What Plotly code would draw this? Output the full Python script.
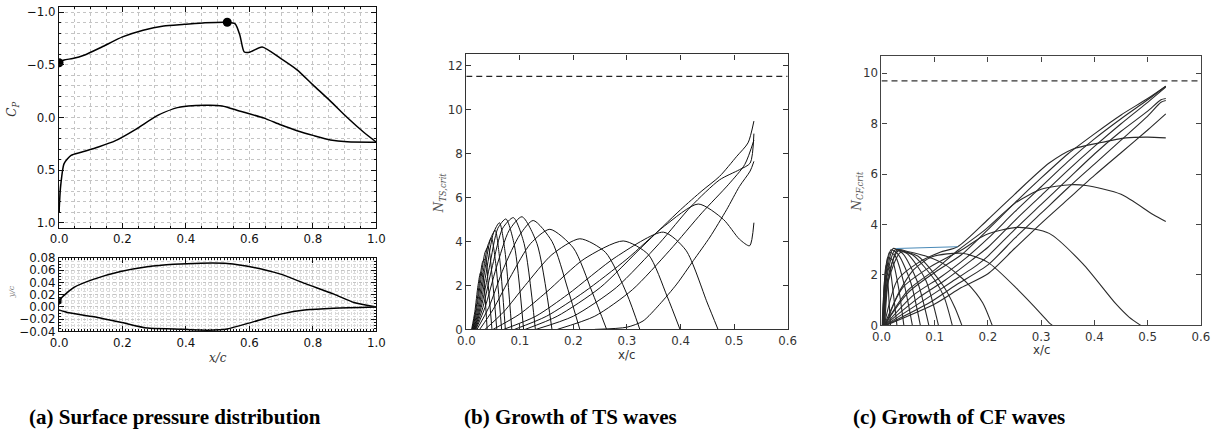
import plotly.graph_objects as go

# ---------------- Panel (a): surface pressure ----------------
cp_upper_x = [0.0, 0.001, 0.016, 0.043, 0.081, 0.135, 0.20, 0.265, 0.33, 0.395, 0.46, 0.53, 0.555, 0.570, 0.583, 0.60, 0.64, 0.698, 0.75, 0.80, 0.855, 0.908, 0.96, 1.0]
cp_upper_y = [0.90, -0.52, -0.547, -0.56, -0.594, -0.67, -0.766, -0.83, -0.87, -0.885, -0.90, -0.905, -0.89, -0.78, -0.625, -0.62, -0.67, -0.562, -0.453, -0.31, -0.156, 0.0, 0.14, 0.235]
cp_lower_x = [0.0, 0.005, 0.016, 0.038, 0.07, 0.124, 0.178, 0.243, 0.308, 0.373, 0.46, 0.514, 0.568, 0.646, 0.698, 0.75, 0.803, 0.855, 0.908, 1.0]
cp_lower_y = [0.906, 0.656, 0.4375, 0.36, 0.33, 0.28, 0.22, 0.11, -0.016, -0.094, -0.116, -0.11, -0.0625, 0.006, 0.069, 0.125, 0.172, 0.213, 0.231, 0.235]
cp_marker_x = [0.0, 0.53]
cp_marker_y = [-0.52, -0.905]

yc_upper_x = [0.0, 0.005, 0.047, 0.11, 0.194, 0.278, 0.362, 0.446, 0.53, 0.614, 0.698, 0.78, 0.866, 0.929, 1.0]
yc_upper_y = [0.004, 0.013, 0.032, 0.0456, 0.058, 0.0658, 0.070, 0.0718, 0.0713, 0.0647, 0.0538, 0.0375, 0.021, 0.0074, 0.0]
yc_lower_x = [0.0, 0.026, 0.11, 0.194, 0.278, 0.362, 0.47, 0.53, 0.614, 0.698, 0.78, 0.866, 1.0]
yc_lower_y = [-0.005, -0.009, -0.016, -0.025, -0.0346, -0.036, -0.038, -0.036, -0.024, -0.0117, -0.0046, -0.0019, 0.0]

# ---------------- Panel (b): TS waves ----------------
ts_crit = 11.5
ts_curves = [
    ([0.010, 0.016, 0.022, 0.027, 0.031, 0.035, 0.039], [0, 0.8, 2.0, 2.6, 2.5, 1.5, 0]),
    ([0.011, 0.018, 0.025, 0.031, 0.036, 0.041, 0.048], [0, 0.9, 2.2, 3.1, 3.2, 2.0, 0]),
    ([0.012, 0.020, 0.028, 0.035, 0.041, 0.048, 0.057], [0, 1.0, 2.4, 3.5, 3.75, 2.5, 0]),
    ([0.013, 0.022, 0.031, 0.040, 0.047, 0.055, 0.066], [0, 1.0, 2.5, 3.8, 4.15, 3.0, 0]),
    ([0.014, 0.024, 0.034, 0.045, 0.054, 0.062, 0.073], [0, 1.0, 2.6, 4.1, 4.5, 3.3, 0]),
    ([0.015, 0.026, 0.038, 0.051, 0.062, 0.072, 0.085], [0, 1.0, 2.7, 4.4, 4.85, 3.6, 0]),
    ([0.016, 0.028, 0.043, 0.059, 0.074, 0.090, 0.107], [0, 1.0, 2.8, 4.6, 5.02, 3.8, 0]),
    ([0.017, 0.031, 0.049, 0.068, 0.088, 0.108, 0.129], [0, 1.0, 2.9, 4.6, 5.08, 3.9, 0]),
    ([0.018, 0.035, 0.056, 0.080, 0.104, 0.132, 0.160], [0, 1.0, 2.8, 4.5, 5.12, 3.9, 0]),
    ([0.020, 0.042, 0.070, 0.100, 0.125, 0.160, 0.190, 0.212], [0, 1.0, 2.8, 4.3, 4.95, 4.0, 1.8, 0]),
    ([0.025, 0.050, 0.085, 0.120, 0.156, 0.200, 0.235, 0.262], [0, 0.9, 2.5, 3.9, 4.55, 3.7, 1.7, 0]),
    ([0.035, 0.070, 0.110, 0.160, 0.212, 0.260, 0.300, 0.324], [0, 0.8, 2.0, 3.4, 4.12, 3.5, 1.6, 0]),
    ([0.050, 0.100, 0.150, 0.220, 0.293, 0.340, 0.375, 0.399], [0, 0.7, 1.7, 3.2, 4.02, 3.4, 1.5, 0]),
    ([0.070, 0.130, 0.190, 0.280, 0.368, 0.410, 0.450, 0.470], [0, 0.6, 1.6, 3.3, 4.42, 3.6, 1.2, 0]),
    ([0.090, 0.150, 0.220, 0.300, 0.370, 0.433, 0.480, 0.510, 0.529, 0.537], [0, 0.6, 1.7, 3.2, 4.7, 5.7, 5.0, 4.1, 3.8, 4.85]),
    ([0.110, 0.170, 0.250, 0.330, 0.400, 0.440, 0.473, 0.505, 0.526, 0.537], [0, 0.6, 1.9, 3.8, 5.44, 6.3, 6.96, 7.87, 8.48, 9.47]),
    ([0.130, 0.200, 0.280, 0.360, 0.420, 0.473, 0.510, 0.530, 0.537], [0, 0.6, 1.9, 3.9, 5.6, 6.8, 7.26, 7.56, 8.9]),
    ([0.170, 0.240, 0.310, 0.380, 0.440, 0.490, 0.520, 0.537], [0, 0.6, 1.8, 3.6, 5.3, 6.6, 7.5, 8.6]),
    ([0.240, 0.300, 0.330, 0.361, 0.393, 0.424, 0.455, 0.486, 0.510, 0.530, 0.537], [0, 0.1, 0.38, 1.14, 2.06, 3.13, 4.2, 5.44, 6.5, 7.2, 7.64]),
]

# ---------------- Panel (c): CF waves ----------------
cf_crit = 9.7
cf_curves = [
    ([0.001, 0.004, 0.007, 0.011, 0.014, 0.017], [0, 1.2, 1.9, 1.8, 1.0, 0]),
    ([0.002, 0.005, 0.009, 0.015, 0.022, 0.029], [0, 1.5, 2.4, 2.3, 1.3, 0]),
    ([0.002, 0.006, 0.012, 0.020, 0.032, 0.042], [0, 1.7, 2.7, 2.6, 1.5, 0]),
    ([0.003, 0.007, 0.015, 0.026, 0.043, 0.058], [0, 1.8, 2.9, 2.75, 1.6, 0]),
    ([0.003, 0.008, 0.018, 0.032, 0.055, 0.073], [0, 1.9, 3.0, 2.8, 1.7, 0]),
    ([0.004, 0.009, 0.022, 0.040, 0.068, 0.089], [0, 1.9, 3.05, 2.85, 1.7, 0]),
    ([0.004, 0.010, 0.026, 0.048, 0.083, 0.107], [0, 1.9, 3.0, 2.85, 1.8, 0]),
    ([0.005, 0.011, 0.031, 0.058, 0.100, 0.118, 0.133], [0, 1.8, 2.95, 2.8, 1.8, 1.1, 0]),
    ([0.005, 0.012, 0.036, 0.068, 0.115, 0.138, 0.151], [0, 1.7, 2.9, 2.75, 1.6, 0.7, 0]),
    ([0.006, 0.013, 0.030, 0.051, 0.083, 0.120, 0.160, 0.190, 0.208], [0, 1.8, 3.0, 2.92, 2.75, 2.4, 1.7, 0.9, 0]),
    ([0.008, 0.030, 0.060, 0.095, 0.152, 0.200, 0.257, 0.300, 0.315, 0.321], [0, 1.2, 2.2, 2.72, 2.86, 2.5, 1.4, 0.45, 0.1, 0]),
    ([0.005, 0.040, 0.090, 0.151, 0.195, 0.2575, 0.315, 0.378, 0.440, 0.465, 0.487], [0, 1.5, 2.3, 3.0, 3.59, 3.89, 3.65, 2.45, 0.86, 0.33, 0]),
    ([0.005, 0.050, 0.100, 0.145, 0.195, 0.251, 0.300, 0.355, 0.384, 0.450, 0.510, 0.534], [0, 1.4, 2.2, 3.0, 3.8, 4.85, 5.4, 5.58, 5.55, 5.2, 4.4, 4.12]),
    ([0.005, 0.030, 0.070, 0.110, 0.143, 0.200, 0.250, 0.315, 0.360, 0.409, 0.459, 0.500, 0.534], [0, 1.8, 2.5, 2.9, 3.12, 4.2, 5.2, 6.44, 7.0, 7.24, 7.44, 7.47, 7.44]),
    ([0.005, 0.050, 0.100, 0.150, 0.200, 0.250, 0.300, 0.350, 0.400, 0.450, 0.500, 0.534], [0, 1.3, 2.1, 2.8, 3.8, 4.85, 5.85, 6.8, 7.6, 8.35, 9.0, 9.49]),
    ([0.006, 0.060, 0.110, 0.160, 0.200, 0.250, 0.300, 0.350, 0.400, 0.450, 0.500, 0.534], [0, 1.2, 1.9, 2.7, 3.45, 4.5, 5.5, 6.5, 7.4, 8.2, 8.95, 9.49]),
    ([0.006, 0.070, 0.120, 0.170, 0.200, 0.250, 0.300, 0.350, 0.400, 0.450, 0.500, 0.534], [0, 1.1, 1.8, 2.6, 3.1, 4.15, 5.15, 6.15, 7.1, 8.0, 8.85, 9.45]),
    ([0.007, 0.080, 0.130, 0.180, 0.200, 0.250, 0.300, 0.350, 0.400, 0.450, 0.500, 0.525, 0.534], [0, 1.0, 1.7, 2.4, 2.75, 3.8, 4.8, 5.8, 6.8, 7.7, 8.5, 8.95, 9.0]),
    ([0.007, 0.090, 0.140, 0.200, 0.250, 0.300, 0.350, 0.400, 0.450, 0.500, 0.525, 0.534], [0, 0.9, 1.6, 2.4, 3.45, 4.45, 5.45, 6.4, 7.35, 8.3, 8.85, 8.92]),
    ([0.008, 0.100, 0.150, 0.200, 0.250, 0.300, 0.350, 0.400, 0.450, 0.500, 0.534], [0, 0.85, 1.5, 2.05, 3.05, 4.05, 5.0, 5.95, 6.85, 7.75, 8.39]),
]
cf_link_x = [0.0275, 0.143]
cf_link_y = [3.05, 3.12]

captions = ["(a) Surface pressure distribution", "(b) Growth of TS waves", "(c) Growth of CF waves"]

# ---------------- Figure ----------------
# Placement is given in target-picture pixels; the page adds an 8 px body margin and the
# capture is scaled from 1231x450 down to 1215x434.
W, H, BODY = 1215, 434, 8
SX, SY = 1215 / 1231, 434 / 450
def fx(px):
    return min(1.0, max(0.0, (px / SX - BODY) / W))
def fy(py):
    return min(1.0, max(0.0, 1 - (py / SY - BODY) / H))

fig = go.Figure()

blk = "black"
fig.add_trace(go.Scatter(x=cp_upper_x, y=cp_upper_y, mode="lines", line=dict(color=blk, width=1.5, shape="spline", smoothing=0.6), xaxis="x", yaxis="y"))
fig.add_trace(go.Scatter(x=cp_lower_x, y=cp_lower_y, mode="lines", line=dict(color=blk, width=1.5, shape="spline", smoothing=0.6), xaxis="x", yaxis="y"))
fig.add_trace(go.Scatter(x=cp_marker_x, y=cp_marker_y, mode="markers", marker=dict(color=blk, size=9), xaxis="x", yaxis="y"))

fig.add_trace(go.Scatter(x=yc_upper_x, y=yc_upper_y, mode="lines", line=dict(color=blk, width=1.5, shape="spline", smoothing=0.6), xaxis="x2", yaxis="y2"))
fig.add_trace(go.Scatter(x=yc_lower_x, y=yc_lower_y, mode="lines", line=dict(color=blk, width=1.5, shape="spline", smoothing=0.6), xaxis="x2", yaxis="y2"))
fig.add_trace(go.Scatter(x=[0.0], y=[0.01], mode="markers", marker=dict(color=blk, size=5, symbol="square"), xaxis="x2", yaxis="y2"))

for cx, cy in ts_curves:
    fig.add_trace(go.Scatter(x=cx, y=cy, mode="lines", line=dict(color="#111111", width=1, shape="spline", smoothing=0.7), xaxis="x3", yaxis="y3"))
fig.add_trace(go.Scatter(x=[0, 0.6], y=[ts_crit, ts_crit], mode="lines", line=dict(color="#222222", width=1.2, dash="6px,4px"), xaxis="x3", yaxis="y3"))

for cx, cy in cf_curves:
    fig.add_trace(go.Scatter(x=cx, y=cy, mode="lines", line=dict(color="#2a2a2a", width=1.1, shape="spline", smoothing=0.7), xaxis="x4", yaxis="y4"))
fig.add_trace(go.Scatter(x=cf_link_x, y=cf_link_y, mode="lines", line=dict(color="#4a8ab8", width=1), xaxis="x4", yaxis="y4"))
fig.add_trace(go.Scatter(x=[0, 0.6], y=[cf_crit, cf_crit], mode="lines", line=dict(color="#333333", width=1.2, dash="6px,4px"), xaxis="x4", yaxis="y4"))

tickfont = dict(family="DejaVu Sans", size=11.8, color="#111111")
tickfont_g = dict(family="DejaVu Sans", size=11.8, color="#333333")
grid = dict(showgrid=True, gridcolor="#c4c4c4", griddash="dot", gridwidth=1)

def ax_common(color="#111111"):
    return dict(showline=True, linecolor=color, linewidth=1.2, mirror="ticks", ticks="inside",
                ticklen=5, tickcolor=color, zeroline=False)

fig.update_layout(
    width=W, height=H, margin=dict(l=0, r=0, t=0, b=0),
    paper_bgcolor="white", plot_bgcolor="white", showlegend=False,
    xaxis=dict(domain=[fx(58), fx(376)], range=[0, 1], anchor="y", tickvals=[0, 0.2, 0.4, 0.6, 0.8, 1.0],
               ticktext=["0.0", "0.2", "0.4", "0.6", "0.8", "1.0"], tickfont=tickfont,
               minor=dict(dtick=0.05, showgrid=True, gridcolor="#c4c4c4", griddash="dot", ticks="inside", ticklen=2),
               **grid, **ax_common()),
    yaxis=dict(domain=[fy(228), fy(5)], range=[1.05, -1.05], anchor="x", tickvals=[-1.0, -0.5, 0.0, 0.5, 1.0],
               ticktext=["\u22121.0", "\u22120.5", "0.0", "0.5", "1.0"], tickfont=tickfont,
               minor=dict(dtick=0.1, showgrid=True, gridcolor="#c4c4c4", griddash="dot", ticks="inside", ticklen=2),
               **grid, **ax_common()),
    xaxis2=dict(domain=[fx(58), fx(376)], range=[0, 1], anchor="y2", tickvals=[0, 0.2, 0.4, 0.6, 0.8, 1.0],
                ticktext=["0.0", "0.2", "0.4", "0.6", "0.8", "1.0"], tickfont=tickfont,
                minor=dict(dtick=0.01, showgrid=True, gridcolor="#dadada", griddash="dot", ticks="inside", ticklen=2),
                **grid, **ax_common()),
    yaxis2=dict(domain=[fy(331), fy(258)], range=[-0.04, 0.08], anchor="x2",
                tickvals=[-0.04, -0.02, 0.0, 0.02, 0.04, 0.06, 0.08],
                ticktext=["\u22120.04", "\u22120.02", "0.00", "0.02", "0.04", "0.06", "0.08"], tickfont=tickfont,
                minor=dict(dtick=0.005, showgrid=True, gridcolor="#dadada", griddash="dot", ticks="inside", ticklen=2),
                **grid, **ax_common()),
    xaxis3=dict(domain=[fx(466), fx(788)], range=[0, 0.6], anchor="y3", tickvals=[0, 0.1, 0.2, 0.3, 0.4, 0.5, 0.6],
                ticktext=["0.0", "0.1", "0.2", "0.3", "0.4", "0.5", "0.6"], tickfont=tickfont_g, showgrid=False,
                **ax_common("#333333")),
    yaxis3=dict(domain=[fy(329), fy(55)], range=[0, 12.5], anchor="x3", tickvals=[0, 2, 4, 6, 8, 10, 12],
                tickfont=tickfont_g, showgrid=False, **ax_common("#333333")),
    xaxis4=dict(domain=[fx(882), fx(1202)], range=[0, 0.6], anchor="y4", tickvals=[0, 0.1, 0.2, 0.3, 0.4, 0.5, 0.6],
                ticktext=["0.0", "0.1", "0.2", "0.3", "0.4", "0.5", "0.6"], tickfont=tickfont_g, showgrid=False,
                **ax_common("#444444")),
    yaxis4=dict(domain=[fy(325), fy(57)], range=[0, 10.67], anchor="x4", tickvals=[0, 2, 4, 6, 8, 10],
                tickfont=tickfont_g, showgrid=False, **ax_common("#444444")),
)

ann = []
def add_text(px, py, text, size, family, color, angle=0):
    ann.append(dict(x=fx(px), y=fy(py), xref="paper", yref="paper", text=text, textangle=angle,
                    xanchor="center", yanchor="middle", showarrow=False,
                    font=dict(family=family, size=size, color=color)))

add_text(12, 110, "<i>C<sub>P</sub></i>", 12, "DejaVu Serif", "#333333", -90)
add_text(10, 292, "<i>y/c</i>", 8, "DejaVu Serif", "#777777", -90)
add_text(217, 358, "<i>x/c</i>", 12, "DejaVu Serif", "#333333")
add_text(440, 193, "<i>N<sub>TS,crit</sub></i>", 12, "DejaVu Serif", "#555555", -90)
add_text(627, 355, "x/c", 11.8, "DejaVu Sans", "#333333")
add_text(858, 192, "<i>N<sub>CF,crit</sub></i>", 12, "DejaVu Serif", "#555555", -90)
add_text(1042, 350, "x/c", 11.8, "DejaVu Sans", "#333333")
for txt, cxp in zip(captions, [174, 570, 960]):
    add_text(cxp, 416, "<b>" + txt + "</b>", 21, "Liberation Serif", "black")
fig.update_layout(annotations=ann)

fig.write_html("out.html")
